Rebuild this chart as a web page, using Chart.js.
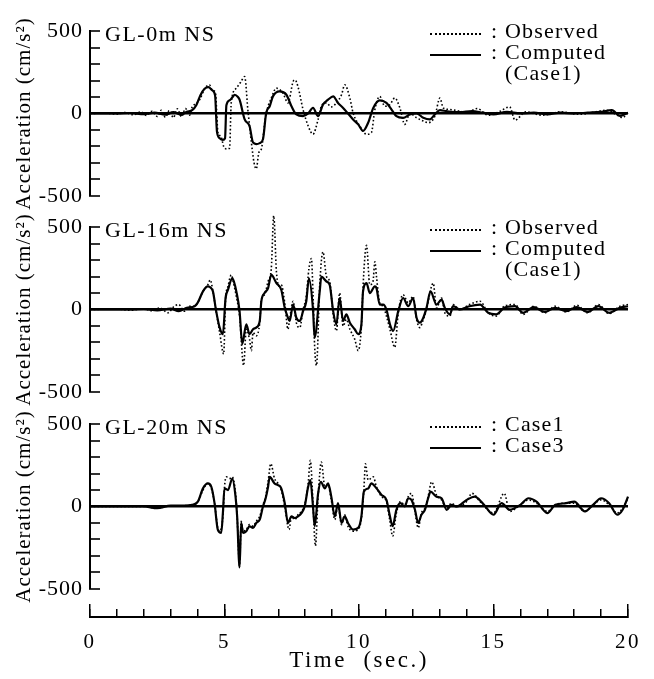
<!DOCTYPE html>
<html>
<head>
<meta charset="utf-8">
<script src="https://cdn.jsdelivr.net/npm/chart.js@4.4.1/dist/chart.umd.min.js"></script>
<style>
  html, body { margin: 0; padding: 0; background: #fff; }
  #fig { position: relative; width: 654px; height: 679px; overflow: hidden;
         font-family: "Liberation Serif", "Times New Roman", serif; color: #000; }
  #fig canvas { position: absolute; left: 0; }
  .tag { position: absolute; font-size: 22px; line-height: 22px; letter-spacing: 1.5px; white-space: nowrap; }
  .key { position: absolute; font-size: 22px; line-height: 22px; letter-spacing: 1.2px; white-space: nowrap; }
  .sample { position: absolute; width: 51px; height: 0; }
  .dotted { border-top: 2px dotted #000; }
  .solid { border-top: 2.5px solid #000; }
</style>
</head>
<body>
<div id="fig"></div>
<script>
// Tick labels
const timeTicks = [0, 5, 10, 15, 20];
const accelTicks = [-500, 0, 500];

// [time (sec), acceleration (cm/s2)]
const gl0Observed = [
  [0,0],[0.6,2],[1.0,-4],[1.3,6],[1.6,-8],[1.9,10],[2.1,-12],[2.3,14],[2.5,-18],[2.65,20],
  [2.8,-22],[2.95,18],[3.1,-25],[3.25,28],[3.4,-20],[3.55,30],[3.7,-10],[3.8,40],[3.95,60],
  [4.1,90],[4.26,150],[4.44,174],[4.55,140],[4.66,130],[4.76,-120],[4.86,-136],[4.97,-200],
  [5.1,-216],[5.19,-210],[5.25,64],[5.44,154],[5.6,190],[5.75,224],[5.87,20],[6.0,-176],
  [6.1,-300],[6.18,-336],[6.28,-236],[6.37,-216],[6.53,-16],[6.74,94],[6.93,154],[7.17,124],
  [7.36,64],[7.55,194],[7.62,204],[7.73,164],[7.92,24],[8.11,-76],[8.29,-126],[8.48,-36],
  [8.6,44],[8.79,64],[8.97,40],[9.16,64],[9.35,114],[9.47,174],[9.66,94],[9.78,4],[10.03,-76],
  [10.28,-126],[10.46,-116],[10.59,24],[10.77,104],[10.96,44],[11.15,54],[11.33,94],[11.52,34],
  [11.7,-66],[11.89,0],[12.14,-26],[12.39,-46],[12.57,-56],[12.82,-16],[13.01,94],[13.13,34],
  [13.38,24],[13.75,14],[14.0,5],[14.4,30],[14.8,-10],[15.2,10],[15.6,40],[15.8,-40],[16.2,10],
  [16.8,-10],[17.5,10],[18.2,-5],[18.8,10],[19.2,20],[19.6,-10],[19.8,-25],[20,10]
];
const gl0Computed = [
  [0,0],[1.0,0],[1.5,3],[2.0,-4],[2.4,5],[2.8,-7],[3.1,8],[3.4,-8],[3.6,10],[3.8,20],[3.95,50],
  [4.1,110],[4.26,150],[4.4,160],[4.55,140],[4.65,110],[4.72,-110],[4.82,-150],[4.94,-160],
  [5.02,-150],[5.07,50],[5.19,80],[5.3,100],[5.38,114],[5.5,100],[5.56,84],[5.75,-36],[5.93,-76],
  [6.06,-176],[6.18,-186],[6.31,-180],[6.43,-156],[6.55,4],[6.68,44],[6.8,104],[7.05,134],
  [7.3,114],[7.49,44],[7.67,-6],[7.92,-16],[8.11,0],[8.29,34],[8.48,-16],[8.66,54],[8.85,84],
  [9.04,104],[9.22,64],[9.41,34],[9.59,0],[9.78,-36],[9.97,-66],[10.15,-106],[10.34,-56],
  [10.53,34],[10.77,80],[11.02,64],[11.21,24],[11.39,-16],[11.64,-26],[11.89,-6],[12.14,0],
  [12.39,-26],[12.63,-36],[12.82,-6],[13.01,20],[13.26,14],[13.75,8],[14.2,15],[14.6,5],
  [15.0,-5],[15.5,10],[16.0,0],[16.5,5],[17.0,-5],[17.5,5],[18.0,0],[18.5,5],[19.0,10],
  [19.4,20],[19.7,-15],[20,5]
];

const gl16Observed = [
  [0,0],[1.0,3],[1.5,-5],[2.0,5],[2.3,-8],[2.6,10],[2.9,-20],[3.1,15],[3.3,30],[3.5,-10],
  [3.7,20],[3.89,20],[4.0,40],[4.2,110],[4.38,150],[4.47,180],[4.57,110],[4.69,-10],[4.82,-140],
  [4.97,-270],[5.04,60],[5.13,140],[5.25,210],[5.35,150],[5.44,80],[5.56,-40],[5.71,-340],
  [5.81,-120],[5.93,-180],[6.0,-250],[6.06,-140],[6.18,-160],[6.31,-80],[6.37,60],[6.49,90],
  [6.62,170],[6.74,250],[6.83,570],[6.93,230],[7.05,140],[7.11,150],[7.24,40],[7.36,-120],
  [7.42,-60],[7.55,50],[7.67,-80],[7.8,-110],[7.92,0],[8.04,80],[8.14,250],[8.23,310],[8.29,100],
  [8.35,-220],[8.42,-340],[8.54,150],[8.66,350],[8.79,200],[8.91,170],[9.04,-30],[9.16,-130],
  [9.28,100],[9.41,-100],[9.53,-60],[9.66,-120],[9.84,-180],[9.97,-250],[10.09,-100],[10.15,140],
  [10.28,390],[10.4,150],[10.52,170],[10.59,290],[10.65,200],[10.77,40],[10.9,20],[11.02,-40],
  [11.15,-120],[11.33,-230],[11.46,-20],[11.64,90],[11.83,40],[12.01,80],[12.14,-60],[12.26,-110],
  [12.39,-60],[12.51,0],[12.66,120],[12.76,160],[12.88,10],[13.07,70],[13.19,-20],[13.38,-40],
  [13.5,30],[13.75,0],[14.1,30],[14.5,50],[14.8,-20],[15.1,-40],[15.4,20],[15.8,30],[16.1,-30],
  [16.5,20],[16.9,-20],[17.3,20],[17.7,-15],[18.1,25],[18.5,-20],[18.9,30],[19.3,-25],[19.7,20],
  [20,30]
];
const gl16Computed = [
  [0,0],[1.5,0],[2.0,3],[2.5,-5],[3.0,5],[3.3,-10],[3.6,10],[3.89,20],[4.0,40],[4.2,110],
  [4.38,140],[4.5,130],[4.57,110],[4.69,-10],[4.82,-110],[4.94,-150],[5.04,70],[5.13,120],
  [5.29,190],[5.35,170],[5.44,110],[5.56,-10],[5.66,-210],[5.81,-90],[5.93,-150],[6.06,-120],
  [6.18,-110],[6.31,-70],[6.37,50],[6.49,100],[6.62,130],[6.74,210],[6.93,160],[7.11,120],
  [7.24,10],[7.36,-50],[7.42,-70],[7.55,30],[7.67,-50],[7.8,-70],[7.92,-10],[8.04,50],[8.14,190],
  [8.29,0],[8.35,-170],[8.54,110],[8.6,200],[8.79,170],[8.91,150],[9.04,-10],[9.16,-90],
  [9.28,70],[9.41,-70],[9.53,-30],[9.66,-80],[9.84,-120],[9.97,-150],[10.09,-90],[10.15,110],
  [10.28,160],[10.4,100],[10.59,140],[10.65,130],[10.77,30],[10.9,30],[11.02,0],[11.15,-90],
  [11.27,-130],[11.46,-10],[11.64,70],[11.83,20],[12.01,70],[12.14,-50],[12.26,-80],[12.39,-50],
  [12.51,10],[12.66,110],[12.88,30],[13.07,60],[13.19,10],[13.38,-30],[13.5,20],[13.75,0],
  [14.1,20],[14.5,30],[14.8,-20],[15.1,-30],[15.4,10],[15.8,20],[16.1,-20],[16.5,15],[16.9,-15],
  [17.3,10],[17.7,-10],[18.1,15],[18.5,-15],[18.9,20],[19.3,-20],[19.7,10],[20,20]
];

const gl20Case1 = [
  [0,0],[2.0,0],[2.5,-10],[3.0,5],[3.5,5],[3.8,10],[4.01,30],[4.2,100],[4.38,140],[4.51,110],
  [4.63,20],[4.75,-130],[4.82,-150],[4.94,-60],[5.0,120],[5.07,180],[5.19,170],[5.29,180],
  [5.41,80],[5.47,-60],[5.56,-360],[5.62,-90],[5.69,-150],[5.81,-140],[5.93,-110],[6.06,-120],
  [6.18,-90],[6.31,-60],[6.43,10],[6.53,60],[6.62,150],[6.72,260],[6.86,170],[6.99,140],
  [7.11,100],[7.24,0],[7.4,-140],[7.49,-60],[7.61,-80],[7.73,-50],[7.86,-30],[7.98,10],
  [8.11,140],[8.19,280],[8.29,20],[8.38,-240],[8.48,60],[8.6,270],[8.73,120],[8.85,130],
  [8.97,40],[9.1,-80],[9.22,10],[9.35,-110],[9.47,-50],[9.59,-120],[9.78,-150],[9.97,-140],
  [10.09,-70],[10.18,100],[10.24,260],[10.34,160],[10.53,180],[10.65,120],[10.84,60],[11.02,30],
  [11.15,-90],[11.25,-180],[11.39,-40],[11.54,30],[11.7,10],[11.83,60],[11.95,80],[12.08,-30],
  [12.2,-130],[12.32,-40],[12.45,-10],[12.57,60],[12.7,150],[12.88,70],[13.07,40],[13.26,-10],
  [13.44,20],[13.63,0],[14.0,30],[14.2,80],[14.5,30],[15.0,-40],[15.4,80],[15.6,-30],[16.0,10],
  [16.3,40],[16.6,20],[17.0,-30],[17.3,10],[17.7,20],[18.0,20],[18.4,-30],[18.7,10],[19.0,40],
  [19.3,10],[19.6,-40],[19.8,-10],[20,50]
];
const gl20Case3 = [
  [0,0],[2.0,0],[2.5,-10],[3.0,5],[3.5,5],[3.8,10],[4.01,30],[4.2,110],[4.38,140],[4.51,120],
  [4.63,20],[4.75,-140],[4.88,-160],[4.94,-40],[5.0,110],[5.13,100],[5.29,170],[5.41,60],
  [5.47,-60],[5.56,-370],[5.62,-100],[5.69,-160],[5.81,-150],[5.93,-120],[6.06,-130],[6.18,-100],
  [6.31,-80],[6.43,0],[6.53,50],[6.62,120],[6.68,180],[6.86,140],[6.99,130],[7.11,110],[7.24,20],
  [7.36,-100],[7.49,-60],[7.61,-70],[7.73,-60],[7.86,-40],[7.98,0],[8.11,120],[8.19,160],
  [8.29,0],[8.35,-120],[8.48,80],[8.58,150],[8.73,110],[8.85,140],[8.97,60],[9.1,-60],[9.22,20],
  [9.35,-100],[9.47,-60],[9.59,-100],[9.78,-140],[9.97,-130],[10.09,-60],[10.18,90],[10.34,110],
  [10.46,140],[10.65,110],[10.84,70],[11.02,40],[11.15,-60],[11.25,-120],[11.39,-20],[11.54,20],
  [11.7,0],[11.83,50],[11.95,40],[12.08,-20],[12.2,-100],[12.32,-50],[12.45,-20],[12.57,50],
  [12.66,90],[12.88,60],[13.07,50],[13.26,-20],[13.44,10],[13.63,0],[14.0,40],[14.3,60],
  [14.6,20],[15.0,-50],[15.3,20],[15.6,-20],[16.0,10],[16.3,50],[16.6,30],[17.0,-40],[17.3,10],
  [17.7,20],[18.0,30],[18.4,-30],[18.7,10],[19.0,50],[19.3,20],[19.6,-50],[19.8,-20],[20,60]
];

const FONT = '"Liberation Serif", "Times New Roman", serif';
const fig = document.getElementById('fig');

// panel layout: top = pixel of the +500 tick
const panels = [
  { tag: 'GL-0m NS', top: 30, series: [
      { name: 'Observed', values: gl0Observed, dotted: true },
      { name: 'Computed', values: gl0Computed, dotted: false }],
    keys: [': Observed', ': Computed', '(Case1)'] },
  { tag: 'GL-16m NS', top: 226, series: [
      { name: 'Observed', values: gl16Observed, dotted: true },
      { name: 'Computed', values: gl16Computed, dotted: false }],
    keys: [': Observed', ': Computed', '(Case1)'] },
  { tag: 'GL-20m NS', top: 423, series: [
      { name: 'Case1', values: gl20Case1, dotted: true },
      { name: 'Case3', values: gl20Case3, dotted: false }],
    keys: [': Case1', ': Case3'] }
];

// canvas text spacing, the scan looks widely set
function letterSpacing(px) {
  const set = chart => { chart.ctx.letterSpacing = px + 'px'; };
  return { id: 'letterSpacing', afterInit: set, beforeUpdate: set, beforeDraw: set };
}

function addCanvas(top, height) {
  const c = document.createElement('canvas');
  c.width = 654;
  c.height = height;
  c.style.top = top + 'px';
  c.style.width = '654px';
  c.style.height = height + 'px';
  fig.appendChild(c);
  return c;
}

function addDiv(cls, text, left, top) {
  const d = document.createElement('div');
  d.className = cls;
  if (text) d.textContent = text;
  d.style.left = left + 'px';
  d.style.top = top + 'px';
  fig.appendChild(d);
  return d;
}

const toPoints = pairs => pairs.map(([t, a]) => ({ x: t, y: a }));

function renderPanel(panel) {
  const canvas = addCanvas(panel.top - 29, 225);
  new Chart(canvas, {
    type: 'line',
    data: {
      datasets: panel.series.map(s => ({
        label: s.name,
        data: toPoints(s.values),
        borderColor: '#000',
        borderWidth: s.dotted ? 1.6 : 2.2,
        borderDash: s.dotted ? [1.6, 2.2] : [],
        pointRadius: 0,
        cubicInterpolationMode: 'monotone',
        clip: false
      }))
    },
    options: {
      responsive: false,
      animation: false,
      layout: { padding: { left: 0, right: 26, top: 29, bottom: 27 } },
      plugins: { legend: { display: false }, tooltip: { enabled: false } },
      scales: {
        x: { type: 'linear', min: 0, max: 20, display: false },
        y: {
          min: -500,
          max: 500,
          afterFit(scale) { scale.width = 90; },
          border: { display: true, color: '#000', width: 2 },
          grid: {
            // only the zero line is drawn across the plot
            color: ctx => (ctx.tick && ctx.tick.value === 0 ? '#000' : 'rgba(0,0,0,0)'),
            lineWidth: ctx => (ctx.tick && ctx.tick.value === 0 ? 2.4 : 0),
            tickColor: '#000',
            tickWidth: 1.6,
            tickLength: -10
          },
          ticks: {
            stepSize: 100,
            autoSkip: false,
            padding: 17,
            color: '#000',
            font: { family: FONT, size: 22 },
            callback: v => (accelTicks.includes(v) ? String(v) : '')
          },
          title: {
            display: true,
            text: 'Acceleration (cm/s²)',
            color: '#000',
            font: { family: FONT, size: 21 },
            padding: { top: 12, bottom: 0 }
          }
        }
      }
    },
    plugins: [letterSpacing(1)]
  });

  // panel name and key
  addDiv('tag', panel.tag, 105, panel.top - 7);
  panel.keys.forEach((text, i) => {
    const rowTop = panel.top + 21 * i;
    if (i < 2) {
      addDiv('sample ' + (panel.series[i].dotted ? 'dotted' : 'solid'), '', 430, rowTop + 2.5);
      addDiv('key', text, 491, rowTop - 10);
    } else {
      addDiv('key', text, 505, rowTop - 10);
    }
  });
}

function renderTimeAxis() {
  const canvas = addCanvas(560, 119);
  new Chart(canvas, {
    type: 'line',
    data: { datasets: [] },
    options: {
      responsive: false,
      animation: false,
      layout: { padding: { left: 90, right: 26, top: 49, bottom: 0 } },
      plugins: { legend: { display: false }, tooltip: { enabled: false } },
      scales: {
        y: { display: false, min: 0, max: 1 },
        x: {
          type: 'linear',
          min: 0,
          max: 20,
          afterFit(scale) { scale.height = 62; },
          border: { display: true, color: '#000', width: 2 },
          grid: {
            color: '#000',
            lineWidth: 1.5,
            tickColor: ctx => (timeTicks.includes(ctx.tick.value) ? '#000' : 'rgba(0,0,0,0)'),
            tickWidth: 1.5,
            tickLength: -13
          },
          ticks: {
            stepSize: 1,
            autoSkip: false,
            maxRotation: 0,
            // small padding keeps the chart area full width; the tall line box drops the labels
            padding: 2,
            color: '#000',
            font: { family: FONT, size: 21, lineHeight: 3.5 },
            callback: v => (timeTicks.includes(v) ? String(v) : '')
          },
          title: {
            display: true,
            text: 'Time  (sec.)',
            color: '#000',
            font: { family: FONT, size: 23, lineHeight: 1 },
            padding: { top: 0, bottom: 7 }
          }
        }
      }
    },
    plugins: [letterSpacing(2.5)]
  });
}

panels.forEach(renderPanel);
renderTimeAxis();
</script>
</body>
</html>
